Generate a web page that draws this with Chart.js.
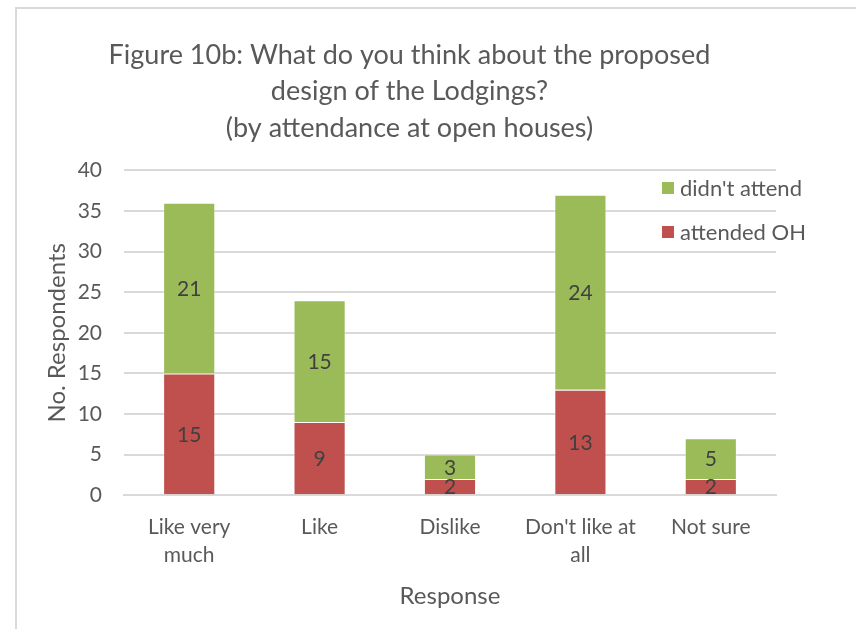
<!DOCTYPE html>
<html>
<head>
<meta charset="utf-8">
<script src="https://cdn.jsdelivr.net/npm/chart.js@4/dist/chart.umd.min.js"></script>
<style>
  html, body { margin: 0; padding: 0; background: #fff; overflow: hidden; }
  #frame { position: absolute; left: 15px; top: 7px; width: 900px; height: 700px;
           border: 2px solid #d9d9d9; box-sizing: border-box; }
  #wrap { position: absolute; left: 0; top: 0; width: 856px; height: 629px; }
</style>
</head>
<body>
<div id="frame"></div>
<div id="wrap"><canvas id="c" width="856" height="629"></canvas></div>
<script>
// Survey responses split by open-house attendance
const categories = [["Like very", "much"], "Like", "Dislike", ["Don't like at", "all"], "Not sure"];
const attendedOH = [15, 9, 2, 13, 2];
const didntAttend = [21, 15, 3, 24, 5];
const yTicks = [0, 5, 10, 15, 20, 25, 30, 35, 40];

const FONT = "Lato, 'Open Sans', sans-serif";
const TEXT = '#595959';

// Value labels centred inside each stacked segment
const segmentLabels = {
  id: 'segmentLabels',
  afterDatasetsDraw(chart) {
    const ctx = chart.ctx;
    ctx.save();
    ctx.font = '21px ' + FONT;
    ctx.fillStyle = '#404040';
    ctx.textAlign = 'center';
    ctx.textBaseline = 'middle';
    chart.data.datasets.forEach((ds, i) => {
      chart.getDatasetMeta(i).data.forEach((bar, j) => {
        const mid = (bar.y + bar.base) / 2;
        ctx.fillText(String(ds.data[j]), bar.x, mid + 1);
      });
    });
    ctx.restore();
  }
};

// Legend drawn over the upper right of the plot, last series first
const cornerLegend = {
  id: 'cornerLegend',
  afterDraw(chart) {
    const ctx = chart.ctx;
    const items = chart.data.datasets.slice().reverse();
    const x = 662, y0 = 188, step = 44;
    ctx.save();
    ctx.font = '22px ' + FONT;
    ctx.textBaseline = 'middle';
    items.forEach((ds, k) => {
      const y = y0 + k * step;
      const w = ctx.measureText(ds.label).width;
      ctx.fillStyle = '#fff';
      ctx.fillRect(x - 4, y - 15, w + 28, 30);
      ctx.fillStyle = ds.backgroundColor;
      ctx.fillRect(x, y - 6, 12, 12);
      ctx.fillStyle = TEXT;
      ctx.fillText(ds.label, x + 18, y + 1);
    });
    ctx.restore();
  }
};

new Chart(document.getElementById('c'), {
  type: 'bar',
  data: {
    labels: categories,
    datasets: [
      { label: 'attended OH', data: attendedOH, backgroundColor: '#C0504D',
        borderColor: 'rgba(255,255,255,0.35)', borderWidth: 1, categoryPercentage: 1, barPercentage: 0.4 },
      { label: "didn't attend", data: didntAttend, backgroundColor: '#9BBB59',
        borderColor: 'rgba(255,255,255,0.35)', borderWidth: 1, categoryPercentage: 1, barPercentage: 0.4 }
    ]
  },
  options: {
    responsive: false,
    animation: false,
    layout: { padding: { top: 37, right: 80, bottom: 14, left: 43 } },
    plugins: {
      legend: { display: false },
      tooltip: { enabled: false },
      title: {
        display: true,
        text: ['Figure 10b: What do you think about the proposed', 'design of the Lodgings?', '(by attendance at open houses)'],
        color: TEXT,
        font: { family: FONT, size: 27, weight: 'normal', lineHeight: 1.35 },
        padding: { top: 0, bottom: 24 }
      }
    },
    scales: {
      x: {
        stacked: true,
        grid: { display: false },
        border: { color: '#d9d9d9', width: 2 },
        ticks: { color: TEXT, font: { family: FONT, size: 21, lineHeight: 1.333 }, padding: 10, maxRotation: 0 },
        title: { display: true, text: 'Response', color: TEXT,
                 font: { family: FONT, size: 24 }, padding: { top: 3 } }
      },
      y: {
        stacked: true,
        min: 0, max: 40,
        afterBuildTicks(axis) { axis.ticks = yTicks.map(v => ({ value: v })); },
        afterFit(axis) { axis.width = 81; },
        grid: { color: '#d9d9d9', lineWidth: 2, drawTicks: false },
        border: { display: false },
        ticks: { color: TEXT, font: { family: FONT, size: 21 }, padding: 22 },
        title: { display: true, text: 'No. Respondents', color: TEXT,
                 font: { family: FONT, size: 24 }, padding: { top: 0, bottom: 0 } }
      }
    }
  },
  plugins: [segmentLabels, cornerLegend]
});
</script>
</body>
</html>
